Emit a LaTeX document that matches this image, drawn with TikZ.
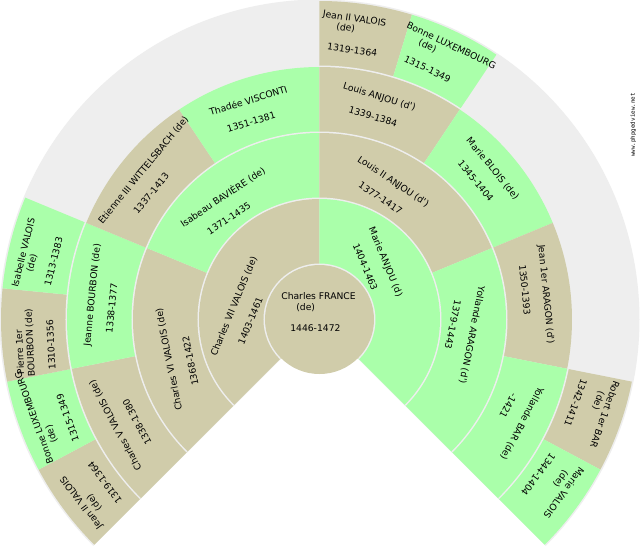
\documentclass[tikz,border=0pt]{standalone}
\usepackage{fontspec}
\setmainfont{DejaVu Sans}
\newfontfamily\markfont{DejaVu Sans Mono}
\usetikzlibrary{positioning}
\definecolor{fantan}{RGB}{208,204,170}
\definecolor{fangreen}{RGB}{170,255,170}
\definecolor{fangray}{RGB}{238,238,238}
\newlength\padw
\setlength\padw{3pt}
\newcommand\pd[1]{\hspace*{#1\padw}}
\newcommand\ap{\textquotesingle}

\begin{document}
\begin{tikzpicture}[
  x=1pt,y=1pt,
  font=\fontsize{9.2}{10.5}\selectfont,
  who/.style={align=left,inner sep=0pt},
  gap/.style={fill=fangray},
]
  \clip (-319.5,-230.5) rectangle (320.5,319.5);
  \fill[white] (-319.5,-230.5) rectangle (320.5,319.5);
  % rings from the outside in: gray pie first, then the known cells
  \foreach \g/\R/\lst in {4/320/{0,1,2,3,8,9,14,15},3/254/{0,...,7},
                          2/188/{0,...,3},1/122/{0,1}}{
    \pgfmathsetmacro\da{270/2^\g}
    \pgfmathsetmacro\rr{\R-1.5}
    \path[gap] (0,0) -- (-45:\R) arc[start angle=-45,end angle=225,radius=\R] -- cycle;
    \foreach \i in \lst {
      \ifodd\i\relax\def\cc{fangreen}\else\def\cc{fantan}\fi
      \pgfmathsetmacro\ang{225-\i*\da}
      \fill[fill=\cc] (0,0) -- (\ang:\rr) arc[start angle=\ang,delta angle=-\da,radius=\rr] -- cycle;
    }
  }
  \path[gap] (0,0) -- (-45:56) arc[start angle=-45,end angle=225,radius=56] -- cycle;
  \fill[fantan] (0,0) circle[radius=54.5];

  % people, by sosa number
  \node[who] (p1) at (-1,7.6) {Charles FRANCE\\\pd{5}(de)\\[10.5pt]\pd{3}1446-1472};
  \node[who,rotate=67.5] (p2) at (-76.2,9.3) {Charles VII VALOIS (de)\\[10.5pt]\pd{7}1403-1461};
  \node[who,rotate=-67.5] (p3) at (56.7,53.8) {Marie ANJOU (d)\\[10.5pt]\pd{3}1404-1463};
  \node[who,rotate=101.25] (p4) at (-140.6,-37.8) {Charles VI VALOIS (de)\\[10.5pt]\pd{7}1368-1422};
  \node[who,rotate=33.75] (p5) at (-91.3,114.3) {Isabeau BAVIÈRE (de)\\[10.5pt]\pd{6}1371-1435};
  \node[who,rotate=-33.75] (p6) at (68.2,129.4) {Louis II ANJOU (d\ap)\\[10.5pt]\pd{5}1377-1417};
  \node[who,rotate=-101.25] (p7) at (142.6,-13.6) {Yollande ARAGON (d\ap)\\[10.5pt]\pd{6}1379-1443};
  \node[who,rotate=118.125] (p8) at (-195.3,-101) {Charles V VALOIS (de)\\[10.5pt]\pd{6}1338-1380};
  \node[who,rotate=84.375] (p9) at (-217.3,23.4) {Jeanne BOURBON (de)\\[10.5pt]\pd{5}1338-1377};
  \node[who,rotate=50.625] (p10) at (-168.3,143) {Etienne III WITTELSBACH (de)\\[10.5pt]\pd{10}1337-1413};
  \node[who,rotate=16.875] (p11) at (-68.2,208.8) {Thadée VISCONTI\\[10.5pt]\pd{4}1351-1381};
  \node[who,rotate=-16.875] (p12) at (57,213.1) {Louis ANJOU (d\ap)\\[10.5pt]\pd{4}1339-1384};
  \node[who,rotate=-50.625] (p13) at (165.4,144.3) {Marie BLOIS (de)\\[10.5pt]\pd{4}1345-1404};
  \node[who,rotate=-84.375] (p14) at (216.6,24.2) {Jean 1er ARAGON (d\ap)\\[10.5pt]\pd{6}1350-1393};
  \node[who,rotate=-118.125] (p15) at (193.7,-99.3) {Yollande BAR (de)\\[10.5pt]\pd{6}-1421};
  \node[who,rotate=126.5625] (p16) at (-226,-174.1) {Jean II VALOIS\\\pd{5}(de)\\[10.5pt]\pd{3}1319-1364};
  \node[who,rotate=109.6875] (p17) at (-270.6,-92.9) {Bonne LUXEMBOURG\\\pd{6}(de)\\[10.5pt]\pd{4}1315-1349};
  \node[who,rotate=92.8125] (p18) at (-284.5,-23) {\pd{1}Pierre 1er\\BOURBON (de)\\[10.5pt]\pd{2}1310-1356};
  \node[who,rotate=75.9375] (p19) at (-281,63.2) {Isabelle VALOIS\\\pd{6}(de)\\[10.5pt]\pd{3}1313-1383};
  \node[who,rotate=-8.4375] (p24) at (32.9,285.6) {Jean II VALOIS\\\pd{5}(de)\\[10.5pt]\pd{3}1319-1364};
  \node[who,rotate=-25.3125] (p25) at (125.2,259.8) {Bonne LUXEMBOURG\\\pd{6}(de)\\[10.5pt]\pd{4}1315-1349};
  \node[who,rotate=-109.6875] (p30) at (270.7,-89.9) {Robert 1er BAR\\\pd{5}(de)\\[10.5pt]\pd{3}1342-1411};
  \node[who,rotate=-126.5625] (p31) at (231.9,-164) {Marie VALOIS\\\pd{4}(de)\\[10.5pt]\pd{2}1344-1404};

  \node[font=\markfont\fontsize{5.85}{7}\selectfont,rotate=90] (site) at (313.8,194.5) {www.phpgedview.net};
\end{tikzpicture}
\end{document}
